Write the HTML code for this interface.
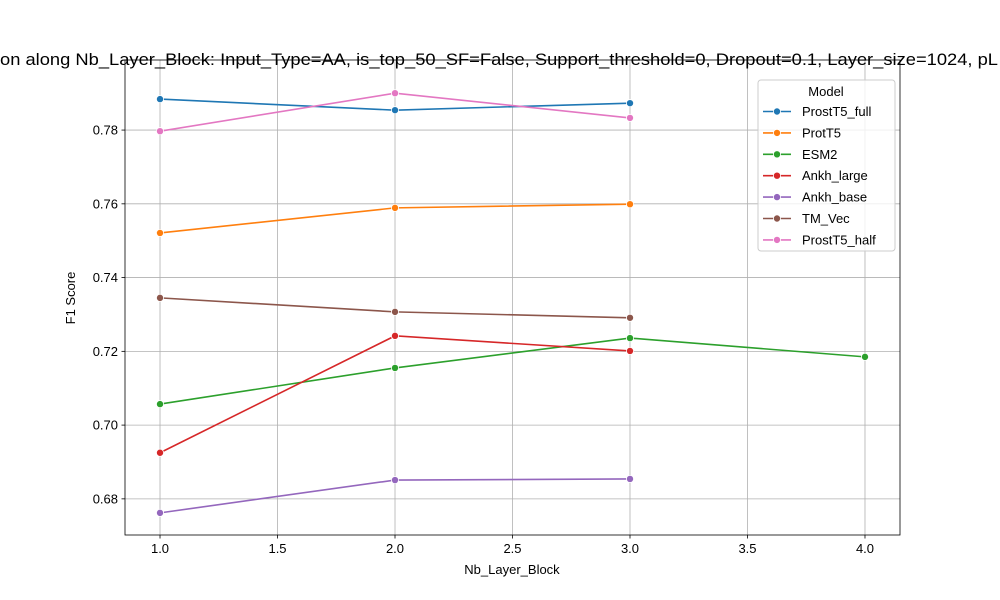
<!DOCTYPE html>
<html><head><meta charset="utf-8"><style>body{margin:0;background:#fff}svg{display:block;font-family:"Liberation Sans","DejaVu Sans",sans-serif}</style></head>
<body>
<svg id="chart" width="1000" height="600"></svg>
<script>
const categories=[1,2,3,4];
const seriesNames=["ProstT5_full","ProtT5","ESM2","Ankh_large","Ankh_base","TM_Vec","ProstT5_half"];
const colors=["#1f77b4","#ff7f0e","#2ca02c","#d62728","#9467bd","#8c564b","#e377c2"];
const prostT5Full=[0.7884,0.7854,0.7873];
const protT5=[0.7521,0.7589,0.7599];
const esm2=[0.7057,0.7155,0.7236,0.7185];
const ankhLarge=[0.6925,0.7242,0.7201];
const ankhBase=[0.6762,0.6851,0.6854];
const tmVec=[0.7345,0.7307,0.7291];
const prostT5Half=[0.7797,0.7900,0.7833];
const xTicks=[1.0,1.5,2.0,2.5,3.0,3.5,4.0];
const yTicks=[0.68,0.70,0.72,0.74,0.76,0.78];
const allSeries=[prostT5Full,protT5,esm2,ankhLarge,ankhBase,tmVec,prostT5Half];
const L=125,R=900,T=60,B=535;
const xMin=0.851,xMax=4.149,yMin=0.6702,yMax=0.799;
const X=v=>L+(v-xMin)/(xMax-xMin)*(R-L);
const Y=v=>B-(v-yMin)/(yMax-yMin)*(B-T);
const svg=document.getElementById('chart');
const NS="http://www.w3.org/2000/svg";
function mk(tag,attrs,parent){const e=document.createElementNS(NS,tag);for(const k in attrs)e.setAttribute(k,attrs[k]);(parent||svg).appendChild(e);return e;}
let g=mk('g',{});


xTicks.forEach(t=>{mk('line',{x1:X(t),x2:X(t),y1:T,y2:B,stroke:'#b0b0b0','stroke-width':0.8},g);
 mk('line',{x1:X(t),x2:X(t),y1:B,y2:B+3.5,stroke:'#000','stroke-width':0.8});
 const tx=mk('text',{x:X(t),y:B+18,'text-anchor':'middle','font-size':13});tx.textContent=t.toFixed(1);
 
 });
yTicks.forEach(t=>{mk('line',{x1:L,x2:R,y1:Y(t),y2:Y(t),stroke:'#b0b0b0','stroke-width':0.8},g);
 mk('line',{x1:L-3.5,x2:L,y1:Y(t),y2:Y(t),stroke:'#000','stroke-width':0.8});
 const tx=mk('text',{x:L-7,y:Y(t)+4.5,'text-anchor':'end','font-size':13});tx.textContent=t.toFixed(2);
 
 });
allSeries.forEach((s,i)=>{
 const sg=mk('g',{});
 
 
 mk('polyline',{points:s.map((v,j)=>X(categories[j])+','+Y(v)).join(' '),fill:'none',stroke:colors[i],'stroke-width':1.6},sg);
 s.forEach((v,j)=>{const c=mk('circle',{cx:X(categories[j]),cy:Y(v),r:3.6,fill:colors[i],stroke:'#fff','stroke-width':0.8},sg);
  
  });
});
const fr=mk('rect',{x:L,y:T,width:R-L,height:B-T,fill:'none',stroke:'#000','stroke-width':0.8});


let t=mk('text',{x:512,y:574,'text-anchor':'middle','font-size':13});t.textContent='Nb_Layer_Block';


t=mk('text',{x:75,y:298,'text-anchor':'middle','font-size':13,transform:'rotate(-90 75 298)'});t.textContent='F1 Score';


t=mk('text',{x:0,y:65,'font-size':16.5,textLength:998,lengthAdjust:'spacingAndGlyphs'});t.textContent='on along Nb_Layer_Block: Input_Type=AA, is_top_50_SF=False, Support_threshold=0, Dropout=0.1, Layer_size=1024, pL';


const lg=mk('g',{});


mk('rect',{x:758,y:80,width:137,height:171,rx:3,fill:'#fff','fill-opacity':0.8,stroke:'#ccc'},lg);
t=mk('text',{x:826,y:96,'text-anchor':'middle','font-size':13},lg);t.textContent='Model';
seriesNames.forEach((n,i)=>{const y=111.5+i*21.4;
 const e=mk('g',{},lg);
 
 
 mk('line',{x1:763,x2:791,y1:y,y2:y,stroke:colors[i],'stroke-width':1.6},e);
 mk('circle',{cx:777,cy:y,r:3.6,fill:colors[i],stroke:'#fff','stroke-width':0.8},e);
 const tx=mk('text',{x:802,y:y+4.5,'font-size':13},e);tx.textContent=n;});
</script>
</body></html>
